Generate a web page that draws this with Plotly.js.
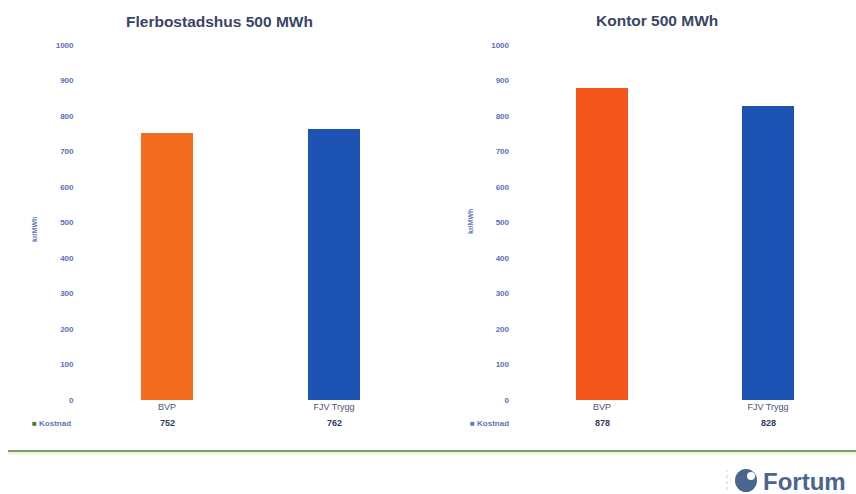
<!DOCTYPE html>
<html>
<head>
<meta charset="utf-8">
<script src="https://cdn.plot.ly/plotly-3.0.1.min.js"></script>
<style>html,body{margin:0;padding:0;background:#fff;}#chart{width:856px;height:494px;}</style>
</head>
<body>
<div id="chart"></div>
<script>
// ---- data ----
const categories = ["BVP", "FJV Trygg"];
const panelTitles = ["Flerbostadshus 500 MWh", "Kontor 500 MWh"];
const flerbostadshusValues = [752, 762];
const kontorValues = [878, 828];
const yTickValues = [0, 100, 200, 300, 400, 500, 600, 700, 800, 900, 1000];
const yAxisLabel = "kr/MWh";
const seriesName = "Kostnad";
const tableMarkerColors = ["#4f7a2a", "#5b7bd0"];

const orangeLeft = "#f36c1e";
const orangeRight = "#f4561b";
const blue = "#1d54b4";

const fam = "Liberation Sans, Arial, sans-serif";
const tickFont = {family: fam, size: 8, color: "#5a70b8", weight: "bold"};
const titleFont = {family: fam, size: 15.5, color: "#3a4566"};

const traces = [
  {type: "bar", x: categories, y: flerbostadshusValues, xaxis: "x", yaxis: "y",
   marker: {color: [orangeLeft, blue]}, width: 0.31, hoverinfo: "none", showlegend: false},
  {type: "bar", x: categories, y: kontorValues, xaxis: "x2", yaxis: "y2",
   marker: {color: [orangeRight, blue]}, width: 0.31, hoverinfo: "none", showlegend: false}
];

const yBase = {range: [0, 1000], tickvals: yTickValues, showgrid: false, zeroline: false,
  showline: false, ticks: "", ticklabelstandoff: 9, tickfont: tickFont, fixedrange: true};
const xBase = {type: "category", range: [-0.5, 1.5], showgrid: false, zeroline: false,
  showline: false, ticks: "", ticklabelstandoff: 0,
  tickfont: {family: fam, size: 9, color: "#4a5472"}, fixedrange: true};

const yDomain = [(494 - 400) / 494, (494 - 45) / 494];

const annotations = [];
function panelAnn(xref, xcenter, title, values, tableX, markerColor, labelY) {
  annotations.push({xref: "paper", yref: "paper", x: xcenter / 856, y: 1 - labelY / 494,
    text: "<b>" + title + "</b>", showarrow: false, font: titleFont, xanchor: "center", yanchor: "middle"});
  categories.forEach((c, i) => {
    annotations.push({xref: xref, yref: "paper", x: c, y: 1 - 423 / 494, text: "<b>" + values[i] + "</b>",
      showarrow: false, xanchor: "center", yanchor: "middle",
      font: {family: fam, size: 9, color: "#2f3b66"}});
  });
  annotations.push({xref: "paper", yref: "paper", x: tableX / 856, y: 1 - 423 / 494,
    text: "<span style='color:" + markerColor + "'>■</span> <b>" + seriesName + "</b>", showarrow: false,
    xanchor: "left", yanchor: "middle",
    font: {family: fam, size: 8, color: "#5f74bb"}});
}
panelAnn("x", 220, panelTitles[0], flerbostadshusValues, 30, tableMarkerColors[0], 22);
panelAnn("x2", 657, panelTitles[1], kontorValues, 468, tableMarkerColors[1], 20);

[[34, 230], [470, 222]].forEach(p => {
  annotations.push({xref: "paper", yref: "paper", x: p[0] / 856, y: 1 - p[1] / 494, text: "<b>" + yAxisLabel + "</b>",
    textangle: -90, showarrow: false, xanchor: "center", yanchor: "middle",
    font: {family: fam, size: 7, color: "#5f74bb"}});
});

annotations.push({xref: "paper", yref: "paper", x: 761 / 856, y: 1 - 481 / 494, text: "<b>Fortum</b>",
  showarrow: false, xanchor: "left", yanchor: "middle",
  font: {family: fam, size: 24, color: "#4a6590"}});

const layout = {
  width: 856, height: 494,
  margin: {l: 0, r: 0, t: 0, b: 0},
  paper_bgcolor: "#ffffff", plot_bgcolor: "#ffffff",
  showlegend: false, bargap: 0,
  xaxis: Object.assign({}, xBase, {domain: [83.5 / 856, 417.5 / 856], anchor: "y"}),
  yaxis: Object.assign({}, yBase, {domain: yDomain, anchor: "x"}),
  xaxis2: Object.assign({}, xBase, {domain: [519 / 856, 851 / 856], anchor: "y2"}),
  yaxis2: Object.assign({}, yBase, {domain: yDomain, anchor: "x2"}),
  annotations: annotations,
  shapes: [
    {type: "line", xref: "paper", yref: "paper", x0: 8 / 856, x1: 1, y0: 1 - 453 / 494, y1: 1 - 453 / 494,
      line: {color: "#eaf5cf", width: 3}},
    {type: "line", xref: "paper", yref: "paper", x0: 8 / 856, x1: 1, y0: 1 - 451 / 494, y1: 1 - 451 / 494,
      line: {color: "#587552", width: 1.5}},
    {type: "circle", xref: "paper", yref: "paper", x0: 735 / 856, x1: 757 / 856, y0: 1 - 492 / 494, y1: 1 - 469 / 494,
      fillcolor: "#4a6590", line: {width: 0}},
    {type: "circle", xref: "paper", yref: "paper", x0: 747 / 856, x1: 755 / 856, y0: 1 - 480 / 494, y1: 1 - 472 / 494,
      fillcolor: "#ffffff", line: {width: 0}},
    {type: "line", xref: "paper", yref: "paper", x0: 727 / 856, x1: 727 / 856, y0: 1 - 490 / 494, y1: 1 - 470 / 494,
      line: {color: "#c8ccd6", width: 1, dash: "dot"}}
  ]
};

Plotly.newPlot("chart", traces, layout, {staticPlot: true, displayModeBar: false});
</script>
</body>
</html>
